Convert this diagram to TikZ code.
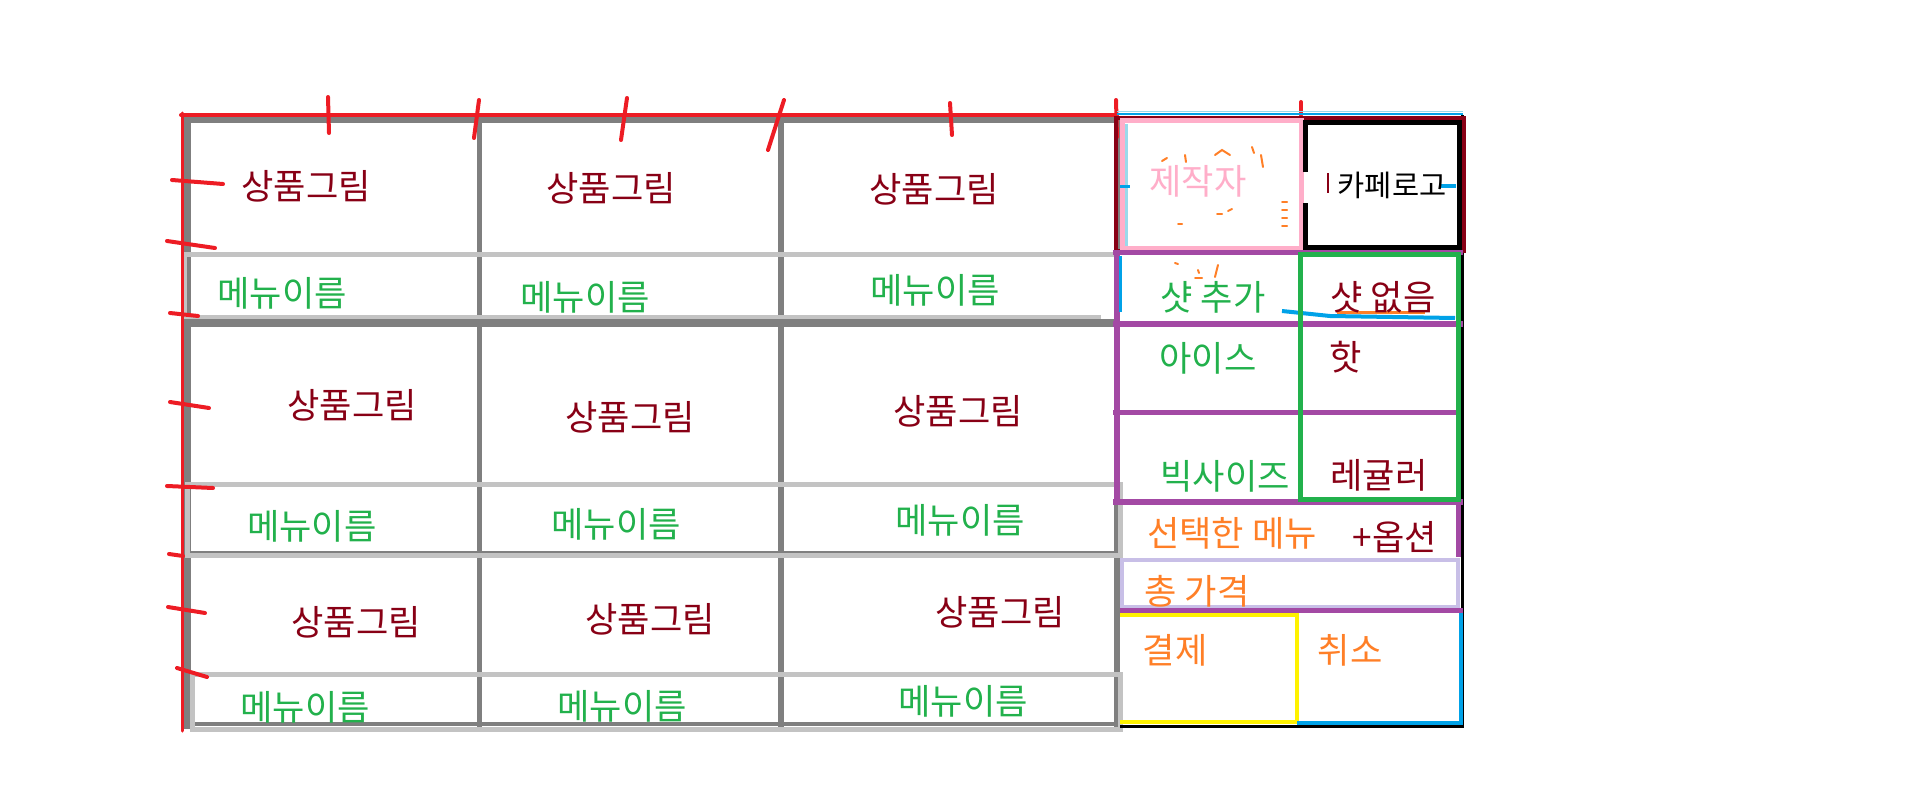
\documentclass[tikz,border=0pt]{standalone}
\usepackage{fontspec}
\usepackage{xcolor}
\usepackage{tikz}
\newfontfamily\krfont{Noto Sans CJK KR}
\definecolor{pmaroon}{HTML}{880015}
\definecolor{pgreen}{HTML}{22B14C}
\definecolor{pred}{HTML}{ED1C24}
\definecolor{pgray}{HTML}{7F7F7F}
\definecolor{plgray}{HTML}{C3C3C3}
\definecolor{ppink}{HTML}{FFAEC9}
\definecolor{ppurple}{HTML}{A349A4}
\definecolor{porange}{HTML}{FF7F27}
\definecolor{pyellow}{HTML}{FFF200}
\definecolor{pblue}{HTML}{00A2E8}
\definecolor{plavender}{HTML}{C8BFE7}
\definecolor{plblue}{HTML}{99D9EA}

\begin{document}
\begin{tikzpicture}[
  x=0.01cm, y=-0.01cm,
  txt/.style={inner sep=0pt, font=\krfont\fontsize{10}{10}\selectfont},
  goods/.style={txt, text=pmaroon},
  menuname/.style={txt, text=pgreen},
  optgreen/.style={txt, text=pgreen},
  optred/.style={txt, text=pmaroon},
  paytxt/.style={txt, text=porange},
  gline/.style={draw=pgray, line width=0.06cm},
  lgline/.style={draw=plgray, line width=0.05cm},
  redmark/.style={draw=pred, line width=0.04cm, line cap=round},
  scribble/.style={draw=porange, line width=0.02cm, line cap=round},
  panel/.style={line width=0.05cm}
]
\useasboundingbox (0,0) rectangle (1914,809);

% Grid: gray frame
\draw[gline] (184,120) -- (1116,120);
\draw[gline, line width=0.07cm] (187,117) -- (187,729);
\draw[gline, line width=0.055cm] (479.5,117) -- (479.5,729);
\draw[gline] (780.5,117) -- (780.5,729);
\draw[gline] (1117,117) -- (1117,729);
\draw[gline, line width=0.08cm] (184,323) -- (1116,323);
\draw[gline, line width=0.015cm] (187,552) -- (1117,552);
\draw[gline, line width=0.04cm] (187,724) -- (1117,724);

% Grid: menu rows
\draw[lgline] (183,254.5) -- (1114,254.5);
\draw[lgline, line width=0.04cm] (183,317) -- (1101,317);
\draw[lgline] (184.5,252) -- (184.5,319);
\draw[lgline] (187.5,484) rectangle (1120,555.5);
\draw[lgline] (192.5,674) rectangle (1120,729);

% Red guide marks
\draw[redmark] (181,115) -- (1117,115);
\draw[redmark, line width=0.03cm] (182,113) -- (182,731);
\draw[redmark] (328,97) -- (329,133);
\draw[redmark] (479,100) -- (474,138);
\draw[redmark] (627,98) -- (621,140);
\draw[redmark] (784,100) -- (768,150);
\draw[redmark] (950,103) -- (952,135);
\draw[redmark] (1116,100) -- (1117,137);
\draw[redmark] (1301,102) -- (1301,115);
\draw[redmark] (172,180) -- (223,184);
\draw[redmark] (167,241) -- (215,248);
\draw[redmark] (170,313) -- (198,316);
\draw[redmark] (170,402) -- (209,408);
\draw[redmark] (167,486) -- (213,488);
\draw[redmark] (169,554) -- (183,556);
\draw[redmark] (168,607) -- (205,613);
\draw[redmark] (177,668) -- (207,677);

% Grid: product pictures
\node[goods] (g11) at (306,186) {상품그림};
\node[goods] (g12) at (611,188) {상품그림};
\node[goods] (g13) at (934,189) {상품그림};
\node[goods] (g21) at (352,405) {상품그림};
\node[goods] (g22) at (630,417) {상품그림};
\node[goods] (g23) at (958,411) {상품그림};
\node[goods] (g31) at (356,622) {상품그림};
\node[goods] (g32) at (650,619) {상품그림};
\node[goods] (g33) at (1000,612) {상품그림};

% Grid: menu names
\node[menuname] (m11) at (282,293) {메뉴이름};
\node[menuname] (m12) at (585,297) {메뉴이름};
\node[menuname] (m13) at (935,290) {메뉴이름};
\node[menuname] (m21) at (312,526) {메뉴이름};
\node[menuname] (m22) at (616,524) {메뉴이름};
\node[menuname] (m23) at (960,520) {메뉴이름};
\node[menuname] (m31) at (305,707) {메뉴이름};
\node[menuname] (m32) at (622,706) {메뉴이름};
\node[menuname] (m33) at (963,701) {메뉴이름};

% Right panel: outline
\draw[panel, line width=0.03cm, draw=black] (1462,115) -- (1462,728);
\draw[panel, line width=0.015cm, draw=plblue] (1117,111.5) -- (1463,111.5);
\draw[panel, line width=0.02cm, draw=pblue] (1117,114) -- (1463,114);

% Right panel: maker / cafe logo
\draw[panel, line width=0.04cm, draw=pmaroon] (1116,117.5) rectangle (1463.5,251);
\draw[panel, draw=ppink] (1122.5,120.5) rectangle (1301,248);
\draw[panel, line width=0.03cm, draw=plblue] (1126,124) -- (1126,246);
\draw[panel, line width=0.03cm, draw=pblue] (1120,186) -- (1130,186);
\draw[panel, draw=black] (1305.5,172) -- (1305.5,122.5) -- (1459.5,122.5)
  -- (1459.5,247.5) -- (1305.5,247.5) -- (1305.5,203);
\draw[panel, line width=0.02cm, draw=pmaroon] (1327.5,173) -- (1327.5,193);
\draw[panel, line width=0.04cm, draw=pblue] (1440,186) -- (1456,186);
\node[txt, text=ppink] (maker) at (1198,181) {제작자};
\node[txt, text=black, font=\krfont\fontsize{8.4}{8.4}\selectfont] (logo) at (1392,185) {카페로고};

% leftover scribbles
\draw[scribble] (1162,161) -- (1167,158);
\draw[scribble] (1185,155) -- (1186,162);
\draw[scribble] (1215,155) -- (1222,150) -- (1230,155);
\draw[scribble] (1252,147) -- (1254,153);
\draw[scribble] (1261,155) -- (1263,167);
\draw[scribble] (1282,202) -- (1287,202);
\draw[scribble] (1282,210) -- (1287,210);
\draw[scribble] (1282,218) -- (1287,218);
\draw[scribble] (1282,226) -- (1287,226);
\draw[scribble] (1217,214) -- (1222,214);
\draw[scribble] (1228,211) -- (1232,209);
\draw[scribble] (1178,224) -- (1182,224);
\draw[scribble] (1175,263) -- (1178,264);
\draw[scribble] (1198,270) -- (1199,273);
\draw[scribble] (1218,265) -- (1215,277);
\draw[scribble] (1195,278) -- (1202,278);

% Right panel: options
\draw[panel, draw=ppurple] (1113,252.5) -- (1463,252.5);
\draw[panel, line width=0.06cm, draw=ppurple] (1113,323.5) -- (1463,323.5);
\draw[panel, draw=ppurple] (1113,412.5) -- (1458,412.5);
\draw[panel, line width=0.06cm, draw=ppurple] (1113,502) -- (1463,502);
\draw[panel, line width=0.06cm, draw=ppurple] (1116.5,250) -- (1116.5,505);
\draw[panel, line width=0.03cm, draw=pblue] (1120,256) -- (1120,312);
\draw[panel, line width=0.04cm, draw=pblue] (1282,311) -- (1330,316) -- (1455,318);
\draw[panel, line width=0.03cm, draw=porange] (1337,312.5) -- (1425,312.5);
\draw[panel, draw=pgreen] (1300.5,254) rectangle (1458.5,499);
\node[optgreen] (shotadd) at (1213,297) {샷 추가};
\node[optred] (shotnone) at (1383,297) {샷 없음};
\node[optgreen] (ice) at (1208,358) {아이스};
\node[optred] (hot) at (1346,357) {핫};
\node[optgreen] (big) at (1225,476) {빅사이즈};
\node[optred] (regular) at (1379,475) {레귤러};

% Right panel: order summary
\draw[panel, draw=ppurple] (1458.5,503) -- (1458.5,557);
\draw[panel, line width=0.04cm, draw=plavender] (1122,559.5) rectangle (1458,606.5);
\draw[panel, draw=ppurple] (1120,610.5) -- (1463,610.5);
\node[paytxt] (chosen) at (1232,533) {선택한 메뉴};
\node[optred] (option) at (1395,537) {+옵션};
\node[paytxt] (total) at (1197,591) {총 가격};

% Right panel: pay / cancel
\draw[panel, line width=0.04cm, draw=pyellow] (1120,615) -- (1297,615) -- (1297,722) -- (1120,722);
\draw[panel, line width=0.04cm, draw=pblue] (1297,723) -- (1460.5,723) -- (1460.5,613);
\draw[panel, line width=0.03cm, draw=black] (1120,726.5) -- (1463,726.5);
\node[paytxt] (pay) at (1175,650) {결제};
\node[paytxt] (cancel) at (1350,650) {취소};

\end{tikzpicture}
\end{document}
